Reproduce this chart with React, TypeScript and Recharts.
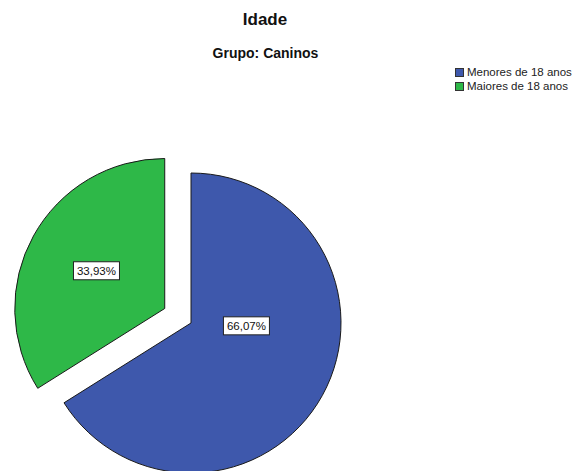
import React from 'react';
import { PieChart, Pie, Cell, Legend } from 'recharts';

const TITLE = 'Idade';
const SUBTITLE = 'Grupo: Caninos';
const CATEGORIES = ['Menores de 18 anos', 'Maiores de 18 anos'];
const PERCENTS = [66.07, 33.93];
const VALUE_LABELS = ['66,07%', '33,93%'];
const COLORS = ['#3E58AC', '#2EB848'];
const EXPLODED = [false, true];

// styling for label placement (radius fraction, angle shift in degrees)
const LABEL_STYLE = [
  { radius: 0.37, shift: 26 },
  { radius: 0.52, shift: 0 },
];

const data = CATEGORIES.map((name, i) => ({ name, value: PERCENTS[i], label: VALUE_LABELS[i] }));

const CX = 191;
const CY = 323;
const R = 150;
const EXPLODE_DIST = 30;
const START = 90;
const END = -270;

const RAD = Math.PI / 180;
const total = PERCENTS.reduce((a, b) => a + b, 0);
const offsets = (() => {
  let a = START;
  return PERCENTS.map((v, i) => {
    const span = ((END - START) * v) / total;
    const mid = a + span / 2;
    a += span;
    const d = EXPLODED[i] ? EXPLODE_DIST : 0;
    return { dx: d * Math.cos(-mid * RAD), dy: d * Math.sin(-mid * RAD) };
  });
})();

const FONT = '"Liberation Sans", Arial, sans-serif';

const makeLabel = (visibleIndex: number) => (props: any) => {
  const { cx, cy, midAngle, outerRadius, index } = props;
  if (index !== visibleIndex) return null;
  const st = LABEL_STYLE[index];
  const a = (midAngle + st.shift) * RAD;
  const r = outerRadius * st.radius;
  const x = cx + r * Math.cos(-a);
  const y = cy + r * Math.sin(-a);
  const text = VALUE_LABELS[index];
  const w = 46;
  const h = 18;
  return (
    <g key={`lbl-${index}`}>
      <rect x={x - w / 2} y={y - h / 2} width={w} height={h} fill="#ffffff" stroke="#222" strokeWidth={1} />
      <text x={x} y={y} textAnchor="middle" dominantBaseline="central" fontSize={11.5} fontFamily={FONT} fill="#111">
        {text}
      </text>
    </g>
  );
};

const LegendContent = () => (
  <div style={{ fontFamily: FONT, fontSize: 11.5, color: '#222', lineHeight: '13px' }}>
    {CATEGORIES.map((c, i) => (
      <div key={c} style={{ display: 'flex', alignItems: 'center', height: 14 }}>
        <span
          style={{
            display: 'inline-block',
            width: 9,
            height: 9,
            background: COLORS[i],
            border: '1px solid #333',
            marginRight: 3,
            boxSizing: 'border-box',
          }}
        />
        <span>{c}</span>
      </div>
    ))}
  </div>
);

export default function App() {
  return (
    <div style={{ position: 'absolute', left: 0, top: 0, width: 577, height: 471, background: '#fff', overflow: 'hidden' }}>
      <div
        style={{
          position: 'absolute',
          left: 0,
          width: 530,
          top: 10,
          textAlign: 'center',
          fontFamily: FONT,
          fontWeight: 'bold',
          fontSize: 17,
          color: '#111',
        }}
      >
        {TITLE}
      </div>
      <div
        style={{
          position: 'absolute',
          left: 0,
          width: 531,
          top: 45,
          textAlign: 'center',
          fontFamily: FONT,
          fontWeight: 'bold',
          fontSize: 14,
          color: '#111',
        }}
      >
        {SUBTITLE}
      </div>
      <div style={{ position: 'absolute', left: 0, top: 0 }}>
        <PieChart width={577} height={471} margin={{ top: 0, right: 0, bottom: 0, left: 0 }}>
          {data.map((_, pi) => (
            <Pie
              key={`pie-${pi}`}
              data={data}
              dataKey="value"
              nameKey="name"
              cx={CX + offsets[pi].dx}
              cy={CY + offsets[pi].dy}
              outerRadius={R}
              startAngle={START}
              endAngle={END}
              isAnimationActive={false}
              labelLine={false}
              label={makeLabel(pi)}
              legendType="none"
            >
              {data.map((d, i) => (
                <Cell
                  key={d.name}
                  fill={i === pi ? COLORS[i] : 'none'}
                  stroke={i === pi ? '#1a1a1a' : 'none'}
                  strokeWidth={1}
                />
              ))}
            </Pie>
          ))}
          <Legend
            content={<LegendContent />}
            wrapperStyle={{ position: 'absolute', left: 455, top: 65, width: 122 }}
          />
        </PieChart>
      </div>
    </div>
  );
}
